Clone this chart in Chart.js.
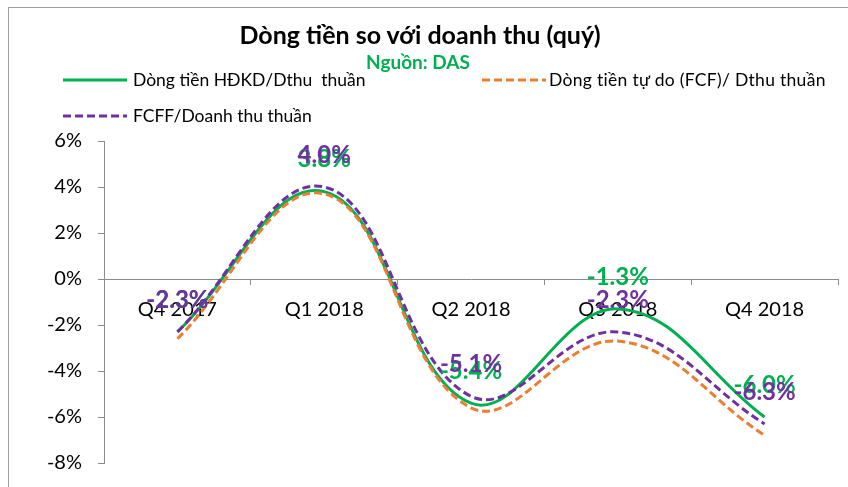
<!DOCTYPE html>
<html>
<head>
<meta charset="utf-8">
<script src="https://cdn.jsdelivr.net/npm/chart.js@4.4.0/dist/chart.umd.min.js"></script>
<style>
html,body{margin:0;padding:0;background:#fff;}
#wrap{position:relative;width:848px;height:487px;overflow:hidden;font-family:Lato,'Open Sans',sans-serif;}
#frame{position:absolute;left:8px;top:7px;width:900px;height:600px;border-left:1px solid #a0a0a0;border-top:1px solid #a0a0a0;box-sizing:border-box;}
#c{position:absolute;left:0;top:0;}
.t{position:absolute;white-space:nowrap;line-height:1;}
#title{left:0;width:840px;text-align:center;top:22px;font-size:25px;font-weight:700;color:#000;}
#sub{left:0;width:836px;text-align:center;top:52px;font-size:19px;font-weight:700;color:#00B050;}
.lg{font-size:17.5px;color:#000;}
svg{position:absolute;}
</style>
</head>
<body>
<div id="wrap">
  <div id="frame"></div>
  <canvas id="c" width="848" height="491"></canvas>
  <div class="t" id="title">Dòng tiền so với doanh thu (quý)</div>
  <div class="t" id="sub">Nguồn: DAS</div>
  <svg style="left:63px;top:76px" width="66" height="8"><line x1="0" y1="4" x2="64" y2="4" stroke="#00B050" stroke-width="3"/></svg>
  <div class="t lg" style="left:133px;top:71px">Dòng tiền HĐKD/Dthu&nbsp; thuần</div>
  <svg style="left:482px;top:76px" width="66" height="8"><line x1="0" y1="4" x2="64" y2="4" stroke="#ED7D31" stroke-width="3" stroke-dasharray="8,4"/></svg>
  <div class="t lg" style="left:549px;top:71px;letter-spacing:0.3px">Dòng tiền tự do (FCF)/ Dthu thuần</div>
  <svg style="left:63px;top:112px" width="66" height="8"><line x1="0" y1="4" x2="64" y2="4" stroke="#7030A0" stroke-width="3" stroke-dasharray="8,4"/></svg>
  <div class="t lg" style="left:133px;top:107px">FCFF/Doanh thu thuần</div>
</div>
<script>
const categories = ['Q4 2017', 'Q1 2018', 'Q2 2018', 'Q3 2018', 'Q4 2018'];
const hdkdRatio = [-2.3, 3.8, -5.4, -1.3, -6.0];
const fcfRatio = [-2.6, 3.7, -5.6, -2.7, -6.8];
const fcffRatio = [-2.3, 4.0, -5.1, -2.3, -6.3];
const yTicks = [-8, -6, -4, -2, 0, 2, 4, 6];

const FONT = "Lato, 'Open Sans', sans-serif";

const labelPlugin = {
  id: 'pointLabels',
  afterDatasetsDraw(chart) {
    const ctx = chart.ctx;
    ctx.save();
    ctx.font = 'bold 24px ' + FONT;
    ctx.textAlign = 'center';
    ctx.textBaseline = 'middle';
    [0, 2].forEach(i => {
      const ds = chart.data.datasets[i];
      const meta = chart.getDatasetMeta(i);
      ctx.fillStyle = ds.borderColor;
      meta.data.forEach((pt, j) => {
        ctx.fillText(ds.data[j].toFixed(1) + '%', pt.x, pt.y - 32);
      });
    });
    ctx.restore();
  }
};

new Chart(document.getElementById('c'), {
  type: 'line',
  data: {
    labels: categories,
    datasets: [
      { label: 'Dòng tiền HĐKD/Dthu  thuần', data: hdkdRatio, borderColor: '#00B050', borderWidth: 3, order: 2 },
      { label: 'Dòng tiền tự do (FCF)/ Dthu thuần', data: fcfRatio, borderColor: '#ED7D31', borderWidth: 3, borderDash: [8, 4], order: 1 },
      { label: 'FCFF/Doanh thu thuần', data: fcffRatio, borderColor: '#7030A0', borderWidth: 3, borderDash: [8, 4], order: 0 }
    ]
  },
  options: {
    responsive: false,
    animation: false,
    devicePixelRatio: 1,
    layout: { padding: { top: 141, bottom: 20, left: 0, right: 10 } },
    elements: { point: { radius: 0 }, line: { tension: 0.4, fill: false, borderCapStyle: 'butt' } },
    plugins: { legend: { display: false }, title: { display: false }, tooltip: { enabled: false } },
    scales: {
      x: {
        type: 'category',
        position: { y: 0 },
        offset: true,
        grid: { display: true, drawOnChartArea: false, offset: true, tickLength: 5, color: '#8c8c8c' },
        border: { display: true, color: '#8c8c8c', width: 1 },
        ticks: { color: '#000', font: { family: FONT, size: 20 }, padding: 14, maxRotation: 0 }
      },
      y: {
        min: -8, max: 6,
        afterBuildTicks(scale) { scale.ticks = yTicks.map(v => ({ value: v })); },
        afterFit(scale) { scale.width = 104; },
        grid: { display: true, drawOnChartArea: false, tickLength: 6, color: '#8c8c8c' },
        border: { display: true, color: '#8c8c8c', width: 1 },
        ticks: { color: '#000', font: { family: FONT, size: 20 }, padding: 16, callback: v => v + '%' }
      }
    }
  },
  plugins: [labelPlugin]
});
</script>
</body>
</html>
